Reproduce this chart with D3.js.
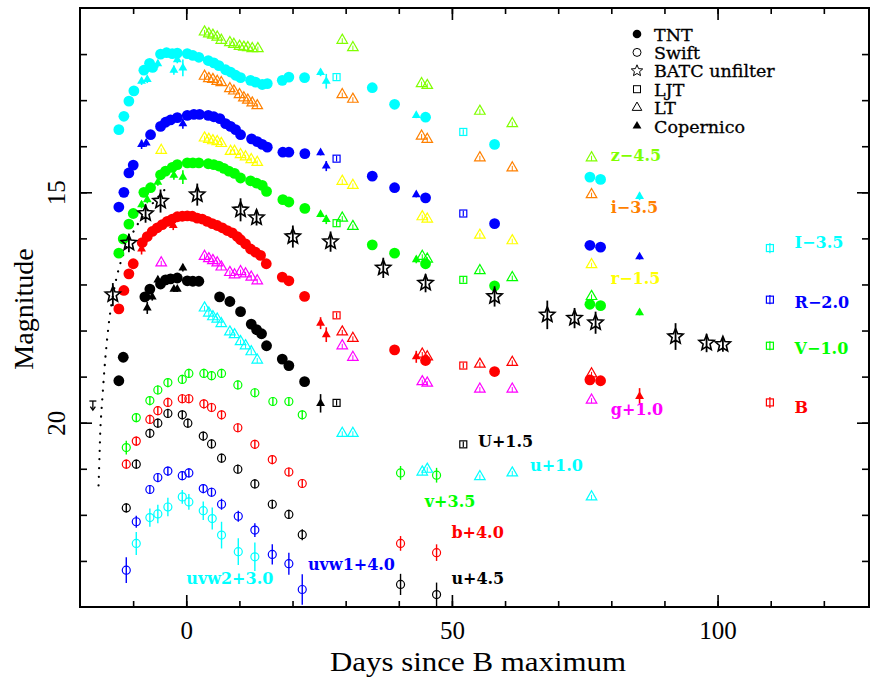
<!DOCTYPE html>
<html>
<head>
<meta charset="utf-8">
<script src="https://cdn.jsdelivr.net/npm/d3@7"></script>
<style>
  body { margin: 0; background: #fff; }
  svg { display: block; }
</style>
</head>
<body>
<svg id="chart" width="870" height="677"></svg>
<script>
// ---- axis settings ----
const dayDomain = [-20, 128.5];
const magDomain = [11, 24];
const xMinorTicks = d3.range(-10, 130, 10);
const xMajorTicks = [0, 50, 100];
const yMinorTicks = d3.range(12, 24, 1);
const yMajorTicks = [15, 20];

// ---- TNT photometry (filled circles): [day, plotted mag] ----
const tntI = [[-12.69,13.64],[-11.74,13.35],[-10.80,13.02],[-9.86,12.80],[-7.98,12.35],[-6.91,12.20],[-6.34,12.29],[-4.84,12.00],[-3.71,11.97],[-2.64,11.99],[-1.69,11.98],[0.19,11.99],[1.24,12.03],[2.37,12.07],[4.14,12.14],[5.19,12.19],[6.14,12.25],[7.40,12.34],[8.34,12.39],[9.28,12.46],[10.22,12.51],[12.10,12.57],[13.04,12.61],[14.30,12.66],[15.25,12.64],[18.07,12.57],[19.31,12.50],[22.27,12.51],[35.01,12.73],[39.21,13.09],[45.04,13.37],[58.03,13.96],[75.97,14.67],[77.98,14.72]];
const tntR = [[-12.69,15.32],[-11.74,15.00],[-10.80,14.58],[-9.98,14.41],[-6.72,13.75],[-4.84,13.57],[-3.90,13.48],[-2.96,13.43],[-1.69,13.38],[0.19,13.33],[1.43,13.31],[2.50,13.31],[4.14,13.33],[5.19,13.36],[6.32,13.40],[7.40,13.51],[8.34,13.57],[9.28,13.64],[10.22,13.75],[12.29,13.84],[13.36,13.90],[14.30,13.96],[15.25,14.02],[18.18,14.13],[19.31,14.13],[22.32,14.16],[35.01,14.65],[39.21,14.90],[45.04,15.12],[58.03,15.68],[75.97,16.15],[77.98,16.19]];
const tntV = [[-12.69,16.32],[-11.86,16.01],[-10.80,15.69],[-9.98,15.46],[-7.98,15.00],[-6.72,14.90],[-4.84,14.62],[-3.90,14.54],[-2.64,14.46],[-1.69,14.40],[0.19,14.36],[1.24,14.36],[2.37,14.36],[4.14,14.38],[5.19,14.40],[6.14,14.43],[7.08,14.48],[8.02,14.54],[9.09,14.59],[10.22,14.69],[12.10,14.75],[13.23,14.80],[14.30,14.85],[15.11,14.98],[18.18,15.16],[19.31,15.21],[22.32,15.35],[35.01,16.14],[39.21,16.32],[45.04,16.55],[58.03,17.03],[75.97,17.43],[77.98,17.46]];
const tntB = [[-12.69,17.53],[-11.74,17.13],[-10.80,16.77],[-9.98,16.55],[-8.28,16.09],[-7.34,15.96],[-6.40,15.85],[-5.46,15.77],[-4.52,15.70],[-3.58,15.63],[-2.64,15.58],[-1.69,15.53],[-0.75,15.52],[0.19,15.51],[1.13,15.52],[2.07,15.56],[3.01,15.58],[3.95,15.63],[4.89,15.68],[5.83,15.72],[6.78,15.77],[7.72,15.83],[8.66,15.88],[9.60,15.96],[10.22,16.03],[11.16,16.12],[12.10,16.23],[13.04,16.30],[13.98,16.37],[15.06,16.55],[18.07,16.84],[19.31,16.92],[22.27,17.26],[39.21,18.42],[45.04,18.65],[58.03,18.89],[75.97,19.07],[77.98,19.09]];
const tntU = [[-12.69,19.09],[-11.86,18.58],[-7.79,17.27],[-6.85,17.10],[-4.84,16.99],[-3.90,16.90],[-2.96,16.88],[-1.69,16.86],[0.19,16.92],[1.24,16.93],[2.37,16.93],[6.27,17.27],[8.21,17.37],[10.22,17.59],[12.23,17.86],[13.23,17.98],[14.17,18.07],[15.11,18.33],[18.07,18.62],[19.31,18.76],[22.27,19.11]];

// ---- Copernico (filled triangles): [day, mag, error] ----
const copI = [[-8.41,12.59,0.08],[-7.34,12.55,0.08],[-5.35,12.21,0.08],[-2.33,12.35,0.1],[-1.69,12.12,0.08],[-0.64,12.30,0.18],[25.28,12.40,0.08],[26.35,12.59,0.16],[43.29,13.33,0.06],[85.32,15.09,0.08]];
const copR = [[-8.41,13.96,0.1],[-7.53,13.93,0.08],[-0.64,13.51,0.11],[25.28,14.14,0.06],[26.35,14.43,0.11],[43.29,15.05,0.06],[85.32,16.40,0.06]];
const copV = [[-8.41,15.27,0.08],[-7.34,15.16,0.08],[-5.35,14.78,0.08],[-2.33,14.63,0.1],[-0.64,14.67,0.15],[25.28,15.48,0.06],[26.35,15.59,0.1],[43.29,16.46,0.08],[85.32,17.61,0.06]];
const copB = [[-8.41,16.23,0.12],[-2.45,15.72,0.1],[25.28,17.84,0.13],[26.35,18.09,0.16],[43.29,18.57,0.13],[85.32,19.43,0.18]];
const copU = [[-7.34,17.51,0.13],[-6.40,17.27,0.08],[-5.35,16.90,0.08],[-2.33,17.10,0.06],[-1.69,17.10,0.06],[-0.64,16.64,0.08],[25.28,19.58,0.2]];

// ---- LT (open triangles): [day, plotted mag] ----
const ltZ = [[3.44,11.52],[4.25,11.56],[5.01,11.59],[5.83,11.63],[6.59,11.70],[8.21,11.75],[8.96,11.79],[10.03,11.83],[10.84,11.85],[11.59,11.86],[12.42,11.88],[13.48,11.88],[29.36,11.70],[31.36,11.86],[44.29,12.64],[45.36,12.68],[55.26,13.24],[61.36,13.51],[76.28,14.25]];
const ltI = [[3.44,12.48],[4.25,12.53],[5.01,12.55],[5.83,12.59],[6.59,12.62],[8.21,12.75],[8.96,12.80],[10.03,12.88],[10.84,12.95],[11.59,13.00],[12.42,13.06],[13.36,13.12],[29.36,12.88],[31.36,12.98],[44.29,13.78],[45.36,13.85],[55.26,14.25],[61.36,14.47],[76.28,15.05]];
const ltR = [[-4.71,14.09],[3.44,13.82],[4.25,13.85],[5.01,13.88],[5.83,13.90],[6.59,13.94],[8.34,14.11],[9.09,14.11],[10.22,14.18],[11.16,14.23],[12.23,14.29],[13.36,14.35],[29.36,14.76],[31.36,14.85],[44.42,15.53],[45.36,15.58],[55.26,15.93],[61.36,16.05],[76.28,16.57]];
const ltV = [[29.36,15.56],[31.36,15.74],[44.42,16.39],[45.36,16.45],[55.26,16.70],[61.36,16.85],[76.28,17.26]];
const ltB = [[29.36,18.03],[31.36,18.17],[44.42,18.51],[45.36,18.57],[55.26,18.73],[61.36,18.69],[76.28,18.94]];
const ltG = [[-4.71,16.53],[3.44,16.39],[4.25,16.44],[5.01,16.48],[5.83,16.53],[6.59,16.62],[8.21,16.74],[9.09,16.79],[10.22,16.72],[11.16,16.77],[12.23,16.84],[13.36,16.92],[29.36,18.33],[31.36,18.58],[44.42,19.11],[45.36,19.14],[55.26,19.27],[61.36,19.27],[76.28,19.51]];
const ltU = [[3.44,17.51],[4.25,17.62],[5.01,17.70],[5.83,17.75],[6.59,17.85],[8.21,18.03],[9.09,18.09],[10.22,18.24],[11.16,18.33],[12.23,18.46],[13.36,18.64],[29.36,20.23],[31.36,20.23],[44.42,21.07],[45.36,21.01],[55.26,21.17],[61.36,21.09],[76.28,21.61]];

// ---- LJT (open squares): [day, mag, error] ----
const ljtI = [[28.29,12.50,0.06],[52.14,13.69,0.06],[109.85,16.21,0.11]];
const ljtR = [[28.29,14.27,0.06],[52.14,15.46,0.06],[109.85,17.33,0.1]];
const ljtV = [[28.29,15.67,0.06],[52.14,16.90,0.06],[109.85,18.33,0.1]];
const ljtB = [[28.29,17.67,0.06],[52.14,18.76,0.06],[109.85,19.56,0.12]];
const ljtU = [[28.29,19.57,0.06],[52.14,20.47,0.06]];

// ---- Swift UVOT (open circles): [day, mag, error] ----
const swV = [[-11.29,20.54,0.15],[-9.41,19.89,0.1],[-6.85,19.52,0.1],[-5.35,19.29,0.1],[-3.46,19.13,0.1],[-0.75,19.06,0.1],[0.49,18.93,0.1],[3.31,18.93,0.1],[4.76,18.98,0.1],[6.64,18.93,0.1],[9.71,19.18,0.1],[12.91,19.35,0.1],[16.30,19.54,0.1],[19.31,19.54,0.1],[21.83,19.83,0.1],[40.33,21.09,0.15],[47.11,21.14,0.16]];
const swB = [[-11.29,20.90,0.1],[-9.41,20.40,0.1],[-6.85,19.93,0.1],[-5.35,19.74,0.1],[-3.46,19.56,0.1],[-0.75,19.48,0.1],[0.49,19.48,0.1],[3.31,19.59,0.1],[4.76,19.67,0.1],[6.64,19.83,0.1],[9.71,20.11,0.1],[12.91,20.47,0.1],[16.19,20.80,0.1],[19.31,21.07,0.1],[21.83,21.32,0.1],[40.33,22.62,0.16],[47.11,22.82,0.18]];
const swU = [[-11.29,21.85,0.1],[-9.41,20.90,0.1],[-6.85,20.23,0.1],[-5.35,20.01,0.1],[-3.46,19.80,0.1],[-0.75,19.83,0.1],[0.30,20.01,0.1],[3.20,20.29,0.1],[4.76,20.46,0.1],[6.64,20.77,0.1],[9.71,21.01,0.1],[12.91,21.33,0.1],[16.19,21.77,0.1],[19.31,21.99,0.1],[21.83,22.43,0.12],[40.33,23.51,0.23],[47.11,23.73,0.26]];
const swW1 = [[-11.29,23.20,0.28],[-9.41,22.15,0.13],[-6.85,21.45,0.1],[-5.35,21.19,0.1],[-3.46,21.05,0.1],[-0.75,21.15,0.1],[0.49,21.09,0.1],[3.20,21.43,0.1],[4.76,21.51,0.1],[6.64,21.77,0.12],[9.79,22.03,0.12],[12.91,22.33,0.15],[16.19,22.86,0.22],[19.31,23.06,0.24],[21.83,23.62,0.33]];
const swW2 = [[-9.41,22.62,0.25],[-6.85,22.06,0.2],[-5.35,21.98,0.2],[-3.46,21.83,0.2],[-0.75,21.61,0.15],[0.49,21.72,0.17],[3.20,21.91,0.2],[4.89,22.08,0.24],[6.64,22.44,0.29],[9.79,22.80,0.29],[12.91,22.91,0.31]];

// ---- BATC unfiltered (open stars): [day, mag, error] ----
const batc = [[-13.82,17.22,0.25],[-10.80,16.10,0.2],[-7.66,15.46,0.2],[-4.84,15.19,0.25],[2.07,15.05,0.24],[10.22,15.38,0.25],[13.23,15.55,0.17],[20.06,15.96,0.24],[27.16,16.07,0.22],[37.08,16.64,0.22],[45.04,16.97,0.2],[58.03,17.26,0.22],[67.95,17.66,0.31],[73.08,17.73,0.22],[77.04,17.83,0.24],[92.09,18.13,0.29],[97.93,18.27,0.2],[101.00,18.30,0.16]];

// ---- early rise model (dotted) and pre-discovery limit ----
const riseFit = [[-16.51,21.36],[-16.32,20.70],[-16.13,20.05],[-15.75,19.40],[-15.38,18.81],[-15.00,18.31],[-14.44,17.72],[-13.87,17.29],[-13.12,16.85],[-12.18,16.46],[-11.05,16.12],[-9.54,15.77],[-7.66,15.44],[-5.59,15.14],[-3.33,14.85]];
const upperLimit = [[-17.58,19.53]];

// ---- band labels ----
const bandLabels = ["z−4.5","i−3.5","r−1.5","g+1.0","I−3.5","R−2.0","V−1.0","B","U+1.5","u+1.0","v+3.5","b+4.0","uvw1+4.0","uvw2+3.0","u+4.5"];
const bandLabelDays = [79.9, 79.9, 79.9, 79.9, 114.5, 114.5, 114.5, 114.5, 54.9, 64.7, 44.9, 49.9, 22.9, 0.0, 49.9];
const bandLabelMags = [14.32, 15.45, 17.0, 19.83, 16.21, 17.51, 18.52, 19.8, 20.52, 21.04, 21.83, 22.51, 23.2, 23.5, 23.5];
const bandLabelColors = ["#80ff00","#ff8000","#ffff00","#ff00ff","#00ffff","#0000ff","#00ff00","#ff0000","#000000","#00ffff","#00ff00","#ff0000","#0000ff","#00ffff","#000000"];

const legendNames = ["TNT","Swift","BATC unfilter","LJT","LT","Copernico"];

// ---- scales ----
const x = d3.scaleLinear().domain(dayDomain).range([80, 869]);
const y = d3.scaleLinear().domain(magDomain).range([8, 607]);

const svg = d3.select("#chart");
const plot = svg.append("g");

const COL = {cyan:"#00ffff", blue:"#0000ff", green:"#00ff00", red:"#ff0000", black:"#000000",
             magenta:"#ff00ff", yellow:"#ffff00", orange:"#ff8000", zgreen:"#80ff00"};

// shape helpers
const triOpen = d3.symbol(d3.symbolTriangle).size(48)();
const triFilled = d3.symbol(d3.symbolTriangle).size(34)();
function starPath(R, r) {
  const pts = [];
  for (let i = 0; i < 10; i++) {
    const a = -Math.PI / 2 + i * Math.PI / 5;
    const rr = i % 2 ? r : R;
    pts.push([rr * Math.cos(a), rr * Math.sin(a)]);
  }
  return "M" + pts.map(p => p[0].toFixed(2) + "," + p[1].toFixed(2)).join("L") + "Z";
}
const star = starPath(8, 3.6);
const starSmall = starPath(6, 2.7);

function errBars(g, data, color, width) {
  g.selectAll(null).data(data).enter().append("line")
    .attr("x1", d => x(d[0])).attr("x2", d => x(d[0]))
    .attr("y1", d => y(d[1] - d[2])).attr("y2", d => y(d[1] + d[2]))
    .attr("stroke", color).attr("stroke-width", width);
}

// dotted rise model
plot.append("path")
  .datum(riseFit)
  .attr("d", d3.line().x(d => x(d[0])).y(d => y(d[1])).curve(d3.curveCatmullRom))
  .attr("fill", "none").attr("stroke", "#000").attr("stroke-width", 2.2)
  .attr("stroke-linecap", "round").attr("stroke-dasharray", "0.1 8.5");

// pre-discovery upper limit
upperLimit.forEach(d => {
  const px = x(d[0]), py = y(d[1]);
  const g = plot.append("g").attr("stroke", "#000").attr("stroke-width", 1.3).attr("fill", "none");
  g.append("line").attr("x1", px - 3.5).attr("x2", px + 3.5).attr("y1", py).attr("y2", py);
  g.append("line").attr("x1", px).attr("x2", px).attr("y1", py).attr("y2", py + 9);
  g.append("path").attr("d", `M${px-2.5},${py+5.5}L${px},${py+9}L${px+2.5},${py+5.5}`);
});

// Swift open circles with error bars
function drawSwift(data, color) {
  const g = plot.append("g");
  errBars(g, data, color, 1.4);
  g.selectAll(null).data(data).enter().append("circle")
    .attr("cx", d => x(d[0])).attr("cy", d => y(d[1])).attr("r", 4)
    .attr("fill", "none").attr("stroke", color).attr("stroke-width", 1.2);
}
drawSwift(swW2, COL.cyan);
drawSwift(swW1, COL.blue);
drawSwift(swU, COL.black);
drawSwift(swB, COL.red);
drawSwift(swV, COL.green);

// LT open triangles with small inner error mark
function drawLT(data, color) {
  const g = plot.append("g");
  const s = g.selectAll(null).data(data).enter().append("g")
    .attr("transform", d => `translate(${x(d[0])},${y(d[1])})`);
  s.append("path").attr("d", triOpen).attr("fill", "none").attr("stroke", color).attr("stroke-width", 1.2);
  s.append("line").attr("x1", 0).attr("x2", 0).attr("y1", -2).attr("y2", 3).attr("stroke", color).attr("stroke-width", 1);
}
drawLT(ltZ, COL.zgreen);
drawLT(ltI, COL.orange);
drawLT(ltR, COL.yellow);
drawLT(ltU, COL.cyan);
drawLT(ltG, COL.magenta);

// TNT filled circles
function drawTNT(data, color) {
  plot.append("g").selectAll(null).data(data).enter().append("circle")
    .attr("cx", d => x(d[0])).attr("cy", d => y(d[1])).attr("r", 5.4)
    .attr("fill", color);
}
drawTNT(tntI, COL.cyan);
drawTNT(tntR, COL.blue);
drawTNT(tntV, COL.green);
drawTNT(tntB, COL.red);
drawTNT(tntU, COL.black);

drawLT(ltV, COL.green);
drawLT(ltB, COL.red);

// Copernico filled triangles with error bars
function drawCop(data, color) {
  const g = plot.append("g");
  errBars(g, data, color, 1.6);
  g.selectAll(null).data(data).enter().append("path")
    .attr("transform", d => `translate(${x(d[0])},${y(d[1])})`)
    .attr("d", triFilled).attr("fill", color);
}
drawCop(copI, COL.cyan);
drawCop(copR, COL.blue);
drawCop(copV, COL.green);
drawCop(copB, COL.red);
drawCop(copU, COL.black);

// LJT open squares with error bars
function drawLJT(data, color) {
  const g = plot.append("g");
  errBars(g, data, color, 1.2);
  g.selectAll(null).data(data).enter().append("rect")
    .attr("x", d => x(d[0]) - 3.5).attr("y", d => y(d[1]) - 3.5)
    .attr("width", 7).attr("height", 7)
    .attr("fill", "none").attr("stroke", color).attr("stroke-width", 1.2);
}
drawLJT(ljtI, COL.cyan);
drawLJT(ljtR, COL.blue);
drawLJT(ljtV, COL.green);
drawLJT(ljtB, COL.red);
drawLJT(ljtU, COL.black);

// BATC stars with error bars
{
  const g = plot.append("g");
  errBars(g, batc, "#000", 1.8);
  g.selectAll(null).data(batc).enter().append("path")
    .attr("transform", d => `translate(${x(d[0])},${y(d[1])})`)
    .attr("d", star).attr("fill", "none").attr("stroke", "#000").attr("stroke-width", 1.6);
}

// band labels
svg.append("g").selectAll(null).data(bandLabels).enter().append("text")
  .attr("x", (d, i) => x(bandLabelDays[i]))
  .attr("y", (d, i) => y(bandLabelMags[i]))
  .attr("fill", (d, i) => bandLabelColors[i])
  .attr("font-family", "DejaVu Serif")
  .attr("font-weight", "bold")
  .attr("font-size", 16)
  .text(d => d);

// legend
{
  const lg = svg.append("g");
  const lx = 637, ly0 = 34, dy = 18.4;
  legendNames.forEach((name, i) => {
    const cy = ly0 + i * dy;
    const g = lg.append("g").attr("transform", `translate(${lx},${cy})`);
    if (i === 0) g.append("circle").attr("r", 4.3).attr("fill", "#000");
    if (i === 1) g.append("circle").attr("r", 4).attr("fill", "none").attr("stroke", "#000").attr("stroke-width", 1);
    if (i === 2) g.append("path").attr("d", starSmall).attr("fill", "none").attr("stroke", "#000").attr("stroke-width", 1);
    if (i === 3) g.append("rect").attr("x", -3.5).attr("y", -3.5).attr("width", 7).attr("height", 7).attr("fill", "none").attr("stroke", "#000").attr("stroke-width", 1);
    if (i === 4) g.append("path").attr("d", d3.symbol(d3.symbolTriangle).size(40)()).attr("fill", "none").attr("stroke", "#000").attr("stroke-width", 1);
    if (i === 5) g.append("path").attr("d", d3.symbol(d3.symbolTriangle).size(34)()).attr("fill", "#000");
    lg.append("text").attr("x", 654).attr("y", cy + 6.5)
      .attr("font-family", "DejaVu Serif").attr("font-size", 17.5).attr("fill", "#000")
      .attr("stroke", "#000").attr("stroke-width", 0.3)
      .text(name);
  });
}

// axes: minor and major ticks on all four sides, pointing inwards
const axes = svg.append("g").attr("font-family", "Liberation Serif");
function styleAxis(g) {
  g.select(".domain").remove();
  g.selectAll(".tick line").attr("stroke", "#000").attr("stroke-width", 1.6);
}
axes.append("g").attr("transform", "translate(0,607)")
  .call(d3.axisBottom(x).tickValues(xMinorTicks).tickSize(-6).tickFormat("")).call(styleAxis);
axes.append("g").attr("transform", "translate(0,8)")
  .call(d3.axisTop(x).tickValues(xMinorTicks).tickSize(-6).tickFormat("")).call(styleAxis);
axes.append("g").attr("transform", "translate(0,607)")
  .call(d3.axisBottom(x).tickValues(xMajorTicks).tickSize(-12).tickFormat(d3.format("d")))
  .call(styleAxis)
  .call(g => g.selectAll(".tick text").attr("y", 32).attr("dy", 0)
    .attr("font-size", 25).attr("font-family", "Liberation Serif").attr("fill", "#000"));
axes.append("g").attr("transform", "translate(0,8)")
  .call(d3.axisTop(x).tickValues(xMajorTicks).tickSize(-12).tickFormat("")).call(styleAxis);

axes.append("g").attr("transform", "translate(80,0)")
  .call(d3.axisLeft(y).tickValues(yMinorTicks).tickSize(-7).tickFormat("")).call(styleAxis);
axes.append("g").attr("transform", "translate(869,0)")
  .call(d3.axisRight(y).tickValues(yMinorTicks).tickSize(-7).tickFormat("")).call(styleAxis);
axes.append("g").attr("transform", "translate(80,0)")
  .call(d3.axisLeft(y).tickValues(yMajorTicks).tickSize(-12).tickFormat(d3.format("d")))
  .call(styleAxis)
  .call(g => g.selectAll(".tick text")
    .attr("x", 0).attr("y", 0).attr("dy", 0)
    .attr("text-anchor", "middle")
    .attr("transform", "translate(-15,0) rotate(-90)")
    .attr("font-size", 25).attr("font-family", "Liberation Serif").attr("fill", "#000"));
axes.append("g").attr("transform", "translate(869,0)")
  .call(d3.axisRight(y).tickValues(yMajorTicks).tickSize(-12).tickFormat("")).call(styleAxis);

// frame
svg.append("rect").attr("x", 80).attr("y", 8).attr("width", 789).attr("height", 599)
  .attr("fill", "none").attr("stroke", "#000").attr("stroke-width", 2);

// axis titles
svg.append("text").attr("x", 478).attr("y", 671).attr("text-anchor", "middle")
  .attr("font-family", "Liberation Serif").attr("font-size", 28).attr("fill", "#000")
  .attr("textLength", 296).attr("lengthAdjust", "spacingAndGlyphs")
  .text("Days since B maximum");
svg.append("text").attr("transform", "translate(33,309) rotate(-90)").attr("text-anchor", "middle")
  .attr("font-family", "Liberation Serif").attr("font-size", 28).attr("fill", "#000")
  .text("Magnitude");
</script>
</body>
</html>
